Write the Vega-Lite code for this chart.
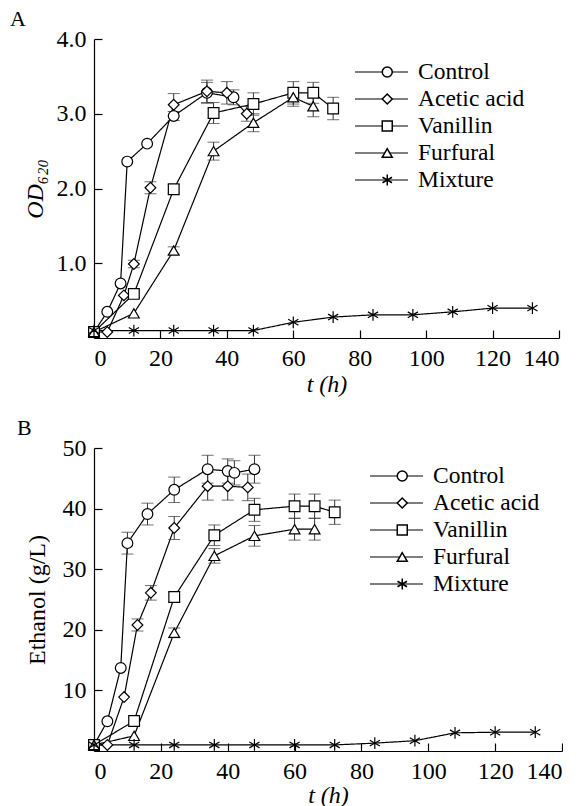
{
  "$schema": "https://vega.github.io/schema/vega-lite/v6.json",
  "padding": {"left": 10, "top": 8, "right": 0, "bottom": 0},
  "background": "white",
  "datasets": {
    "od": [
      {"s": "Control", "t": 0, "v": 0.08}, {"s": "Control", "t": 4, "v": 0.35}, {"s": "Control", "t": 8, "v": 0.73}, {"s": "Control", "t": 10, "v": 2.36},
      {"s": "Control", "t": 16, "v": 2.6}, {"s": "Control", "t": 24, "v": 2.97, "e": 0.06}, {"s": "Control", "t": 34, "v": 3.28, "e": 0.14}, {"s": "Control", "t": 42, "v": 3.22, "e": 0.1},
      {"s": "Acetic acid", "t": 0, "v": 0.08}, {"s": "Acetic acid", "t": 4, "v": 0.08}, {"s": "Acetic acid", "t": 9, "v": 0.57}, {"s": "Acetic acid", "t": 12, "v": 0.99, "e": 0.05},
      {"s": "Acetic acid", "t": 17, "v": 2.01, "e": 0.08}, {"s": "Acetic acid", "t": 24, "v": 3.12, "e": 0.15}, {"s": "Acetic acid", "t": 34, "v": 3.3, "e": 0.15}, {"s": "Acetic acid", "t": 40, "v": 3.28, "e": 0.15}, {"s": "Acetic acid", "t": 46, "v": 3.0, "e": 0.1},
      {"s": "Vanillin", "t": 0, "v": 0.08}, {"s": "Vanillin", "t": 12, "v": 0.59, "e": 0.05}, {"s": "Vanillin", "t": 24, "v": 1.99, "e": 0.06}, {"s": "Vanillin", "t": 36, "v": 3.01, "e": 0.14},
      {"s": "Vanillin", "t": 48, "v": 3.13, "e": 0.15}, {"s": "Vanillin", "t": 60, "v": 3.28, "e": 0.15}, {"s": "Vanillin", "t": 66, "v": 3.28, "e": 0.14}, {"s": "Vanillin", "t": 72, "v": 3.07, "e": 0.15},
      {"s": "Furfural", "t": 0, "v": 0.08}, {"s": "Furfural", "t": 12, "v": 0.33}, {"s": "Furfural", "t": 24, "v": 1.17, "e": 0.05}, {"s": "Furfural", "t": 36, "v": 2.5, "e": 0.12},
      {"s": "Furfural", "t": 48, "v": 2.88, "e": 0.12}, {"s": "Furfural", "t": 60, "v": 3.22, "e": 0.12}, {"s": "Furfural", "t": 66, "v": 3.1, "e": 0.14},
      {"s": "Mixture", "t": 0, "v": 0.1}, {"s": "Mixture", "t": 12, "v": 0.1}, {"s": "Mixture", "t": 24, "v": 0.1}, {"s": "Mixture", "t": 36, "v": 0.1},
      {"s": "Mixture", "t": 48, "v": 0.1}, {"s": "Mixture", "t": 60, "v": 0.21}, {"s": "Mixture", "t": 72, "v": 0.28}, {"s": "Mixture", "t": 84, "v": 0.31},
      {"s": "Mixture", "t": 96, "v": 0.31}, {"s": "Mixture", "t": 108, "v": 0.35}, {"s": "Mixture", "t": 120, "v": 0.4}, {"s": "Mixture", "t": 132, "v": 0.4}
    ],
    "eth": [
      {"s": "Control", "t": 0, "v": 1.0}, {"s": "Control", "t": 4, "v": 4.9}, {"s": "Control", "t": 8, "v": 13.7}, {"s": "Control", "t": 10, "v": 34.3, "e": 1.8},
      {"s": "Control", "t": 16, "v": 39.1, "e": 1.8}, {"s": "Control", "t": 24, "v": 43.1, "e": 2.1}, {"s": "Control", "t": 34, "v": 46.5, "e": 2.3}, {"s": "Control", "t": 40, "v": 46.2, "e": 2.0},
      {"s": "Control", "t": 42, "v": 45.9, "e": 2.0}, {"s": "Control", "t": 48, "v": 46.5, "e": 2.3},
      {"s": "Acetic acid", "t": 0, "v": 1.0}, {"s": "Acetic acid", "t": 4, "v": 1.0}, {"s": "Acetic acid", "t": 9, "v": 8.9}, {"s": "Acetic acid", "t": 13, "v": 20.8, "e": 1.0},
      {"s": "Acetic acid", "t": 17, "v": 26.1, "e": 1.2}, {"s": "Acetic acid", "t": 24, "v": 36.8, "e": 1.9}, {"s": "Acetic acid", "t": 34, "v": 43.7, "e": 2.3}, {"s": "Acetic acid", "t": 40, "v": 43.7, "e": 2.3}, {"s": "Acetic acid", "t": 46, "v": 43.5, "e": 2.2},
      {"s": "Vanillin", "t": 0, "v": 1.0}, {"s": "Vanillin", "t": 12, "v": 4.95}, {"s": "Vanillin", "t": 24, "v": 25.4, "e": 0.8}, {"s": "Vanillin", "t": 36, "v": 35.6, "e": 1.7},
      {"s": "Vanillin", "t": 48, "v": 39.8, "e": 1.9}, {"s": "Vanillin", "t": 60, "v": 40.4, "e": 2.0}, {"s": "Vanillin", "t": 66, "v": 40.4, "e": 2.0}, {"s": "Vanillin", "t": 72, "v": 39.4, "e": 2.0},
      {"s": "Furfural", "t": 0, "v": 1.0}, {"s": "Furfural", "t": 12, "v": 2.5}, {"s": "Furfural", "t": 24, "v": 19.5, "e": 0.8}, {"s": "Furfural", "t": 36, "v": 32.2, "e": 1.2},
      {"s": "Furfural", "t": 48, "v": 35.5, "e": 1.7}, {"s": "Furfural", "t": 60, "v": 36.6, "e": 1.8}, {"s": "Furfural", "t": 66, "v": 36.6, "e": 1.8},
      {"s": "Mixture", "t": 0, "v": 1.0}, {"s": "Mixture", "t": 12, "v": 1.0}, {"s": "Mixture", "t": 24, "v": 1.0}, {"s": "Mixture", "t": 36, "v": 1.0},
      {"s": "Mixture", "t": 48, "v": 1.0}, {"s": "Mixture", "t": 60, "v": 1.0}, {"s": "Mixture", "t": 72, "v": 1.0}, {"s": "Mixture", "t": 84, "v": 1.3},
      {"s": "Mixture", "t": 96, "v": 1.7}, {"s": "Mixture", "t": 108, "v": 3.0}, {"s": "Mixture", "t": 120, "v": 3.1}, {"s": "Mixture", "t": 132, "v": 3.1}
    ]
  },
  "concat": [
    {
      "width": 465,
      "height": 299,
      "title": {"text": "A", "anchor": "start", "frame": "group", "dx": -84, "offset": -4, "fontSize": 22, "font": "Liberation Serif", "fontWeight": "normal", "color": "black"},
      "data": {"name": "od"},
      "encoding": {
        "x": {"field": "t", "type": "quantitative", "scale": {"domain": [0, 140], "nice": false},
              "axis": {"values": [0, 20, 40, 60, 80, 100, 120, 140], "title": "t (h)", "titleFontStyle": "italic", "titlePadding": 2}},
        "y": {"field": "v", "type": "quantitative", "scale": {"domain": [0, 4], "nice": false},
              "axis": {"values": [1, 2, 3, 4], "format": ".1f", "title": "OD₆₂₀", "titleFontStyle": "italic", "titlePadding": 9}}
      },
      "layer": [
        {
          "mark": {"type": "line", "color": "black", "strokeWidth": 1.2},
          "encoding": {
            "strokeDash": {"field": "s", "type": "nominal",
              "scale": {"range": [[1, 0], [1, 0], [1, 0], [1, 0], [1, 0]]},
              "legend": {"orient": "none", "legendX": 260, "legendY": 19.75, "title": null, "symbolType": "stroke", "symbolSize": 2809, "clipHeight": 26.5,
                "rowPadding": 0, "padding": 0, "symbolStrokeColor": "black", "symbolStrokeWidth": 1.2, "labelExpr": "''", "labelFontSize": 10, "labelFont": "Liberation Serif"}}
          }
        },
        {
          "transform": [{"filter": "datum.e > 0"}],
          "mark": {"type": "errorbar", "color": "#333", "ticks": {"size": 12, "color": "#333"}, "rule": {"strokeWidth": 1}},
          "encoding": {"yError": {"field": "e"}}
        },
        {
          "mark": {"type": "point", "filled": true, "fill": "white", "stroke": "black", "strokeWidth": 1.2, "opacity": 1, "size": 115},
          "encoding": {
            "shape": {"field": "s", "type": "nominal",
              "scale": {"domain": ["Control", "Acetic acid", "Vanillin", "Furfural", "Mixture"],
                        "range": ["circle", "diamond", "square", "triangle-up", "M0,-1.1L0,1.1M-0.95,-0.55L0.95,0.55M-0.95,0.55L0.95,-0.55"]},
              "legend": {"orient": "none", "legendX": 260, "legendY": 19.75, "title": null, "symbolSize": 100, "clipHeight": 26.5, "symbolOffset": 21.5, "labelOffset": 19,
                "rowPadding": 0, "padding": 0,
                "labelFontSize": 23.5, "labelFont": "Liberation Serif", "labelColor": "black", "labelLimit": 300,
                "encode": {"symbols": {"update": {"fill": {"value": "white"}, "stroke": {"value": "black"}, "strokeWidth": {"value": 1.2}, "opacity": {"value": 1}}}}}}
          }
        }
      ]
    },
    {
      "width": 468,
      "height": 303,
      "title": {"text": "B", "anchor": "start", "frame": "group", "dx": -77, "offset": -4, "fontSize": 22, "font": "Liberation Serif", "fontWeight": "normal", "color": "black"},
      "data": {"name": "eth"},
      "encoding": {
        "x": {"field": "t", "type": "quantitative", "scale": {"domain": [0, 140], "nice": false},
              "axis": {"values": [0, 20, 40, 60, 80, 100, 120, 140], "title": "t (h)", "titleFontStyle": "italic", "titlePadding": 0}},
        "y": {"field": "v", "type": "quantitative", "scale": {"domain": [0, 50], "nice": false},
              "axis": {"values": [10, 20, 30, 40, 50], "title": "Ethanol (g/L)", "titlePadding": 13}}
      },
      "layer": [
        {
          "mark": {"type": "line", "color": "black", "strokeWidth": 1.2},
          "encoding": {
            "strokeDash": {"field": "s", "type": "nominal",
              "scale": {"range": [[1, 0], [1, 0], [1, 0], [1, 0], [1, 0]]},
              "legend": {"orient": "none", "legendX": 275, "legendY": 14.75, "title": null, "symbolType": "stroke", "symbolSize": 2809, "clipHeight": 26.5,
                "rowPadding": 0, "padding": 0, "symbolStrokeColor": "black", "symbolStrokeWidth": 1.2, "labelExpr": "''", "labelFontSize": 10, "labelFont": "Liberation Serif"}}
          }
        },
        {
          "transform": [{"filter": "datum.e > 0"}],
          "mark": {"type": "errorbar", "color": "#333", "ticks": {"size": 12, "color": "#333"}, "rule": {"strokeWidth": 1}},
          "encoding": {"yError": {"field": "e"}}
        },
        {
          "mark": {"type": "point", "filled": true, "fill": "white", "stroke": "black", "strokeWidth": 1.2, "opacity": 1, "size": 115},
          "encoding": {
            "shape": {"field": "s", "type": "nominal",
              "scale": {"domain": ["Control", "Acetic acid", "Vanillin", "Furfural", "Mixture"],
                        "range": ["circle", "diamond", "square", "triangle-up", "M0,-1.1L0,1.1M-0.95,-0.55L0.95,0.55M-0.95,0.55L0.95,-0.55"]},
              "legend": {"orient": "none", "legendX": 275, "legendY": 14.75, "title": null, "symbolSize": 100, "clipHeight": 26.5, "symbolOffset": 21.5, "labelOffset": 19,
                "rowPadding": 0, "padding": 0,
                "labelFontSize": 23.5, "labelFont": "Liberation Serif", "labelColor": "black", "labelLimit": 300,
                "encode": {"symbols": {"update": {"fill": {"value": "white"}, "stroke": {"value": "black"}, "strokeWidth": {"value": 1.2}, "opacity": {"value": 1}}}}}}
          }
        }
      ]
    }
  ],
  "columns": 1,
  "align": "none",
  "spacing": 21,
  "resolve": {"scale": {"x": "independent", "y": "independent", "shape": "independent", "strokeDash": "independent"}, "legend": {"shape": "independent", "strokeDash": "independent"}},
  "config": {
    "view": {"stroke": null},
    "font": "Liberation Serif",
    "axis": {"grid": false, "domainColor": "black", "domainWidth": 1.2, "tickColor": "black", "tickWidth": 1.2, "tickSize": -8, "labelPadding": 16,
             "labelFont": "Liberation Serif", "labelFontSize": 24, "labelColor": "black", "titleFont": "Liberation Serif", "titleFontSize": 24,
             "titleFontWeight": "normal", "titleColor": "black"}
  }
}
